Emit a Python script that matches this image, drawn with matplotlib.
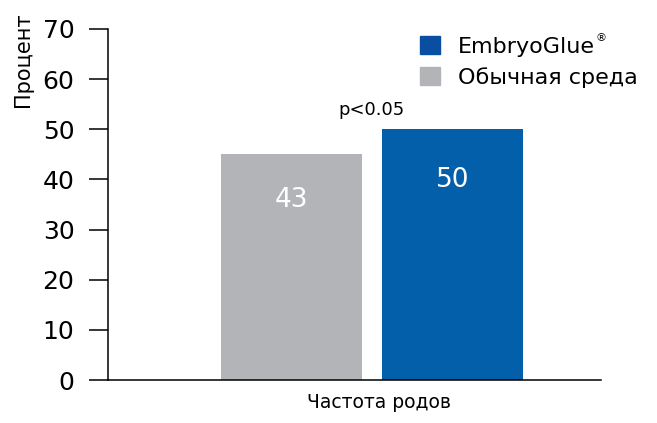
import matplotlib
matplotlib.use("Agg")
import matplotlib.pyplot as plt
from matplotlib.patches import Patch

plt.rcParams['font.family'] = ['DejaVu Sans']

category = ["Частота родов"]
series_names = ["Обычная среда", "EmbryoGlue"]
bar_heights = [45, 50]
bar_labels = ["43", "50"]
colors = ["#B3B4B7", "#045FAA"]
legend_names = ["EmbryoGlue", "Обычная среда"]
legend_colors = ["#0A4EA2", "#B3B4B7"]
yticks = [0, 10, 20, 30, 40, 50, 60, 70]
pvalue_text = "p<0.05"

fig = plt.figure(figsize=(6.57, 4.23), dpi=100)
ax = fig.add_axes([108/657, 1-380/423, (601-108)/657, (380-29)/423])

width = 0.4
offsets = [-0.229, 0.229]
label_drop = [8.6, 9.6]
for i, (h, c, off) in enumerate(zip(bar_heights, colors, offsets)):
    ax.bar(off, h, width=width, color=c, zorder=2)
    ax.text(off, h - label_drop[i], bar_labels[i], ha='center', va='center_baseline',
            color='white', fontsize=19)

ax.text(0.0, bar_heights[1] + 4.3, pvalue_text, ha='center', va='center_baseline',
        fontsize=13, color='black')

ax.set_xlim(-0.749, 0.65)
ax.set_ylim(0, 70)
ax.set_yticks(yticks)
ax.set_yticklabels([str(t) for t in yticks], fontsize=18)
ax.set_xticks([0.02])
ax.set_xticklabels(category, fontsize=13.5)
ax.tick_params(axis='y', length=13.7, width=1.1, pad=10.5, direction='out')
ax.tick_params(axis='x', length=0, pad=9)
for s in ['top', 'right']:
    ax.spines[s].set_visible(False)
for s in ['left', 'bottom']:
    ax.spines[s].set_linewidth(1.1)

handles = [Patch(color=c) for c in legend_colors]
leg = ax.legend(handles, legend_names, loc='upper left',
                bbox_to_anchor=(420/657, 1-36/423), bbox_transform=fig.transFigure,
                frameon=False, fontsize=16, handlelength=0.9, handleheight=0.9,
                handletextpad=0.8, labelspacing=0.45, borderpad=0, borderaxespad=0)

fig.text(601/657, 1-38/423, "®", fontsize=8, ha='center', va='center')
fig.text(23/657, 1-60/423, "Процент", rotation=90, fontsize=15, ha='center', va='center')

fig.savefig("out.png", dpi=100)
